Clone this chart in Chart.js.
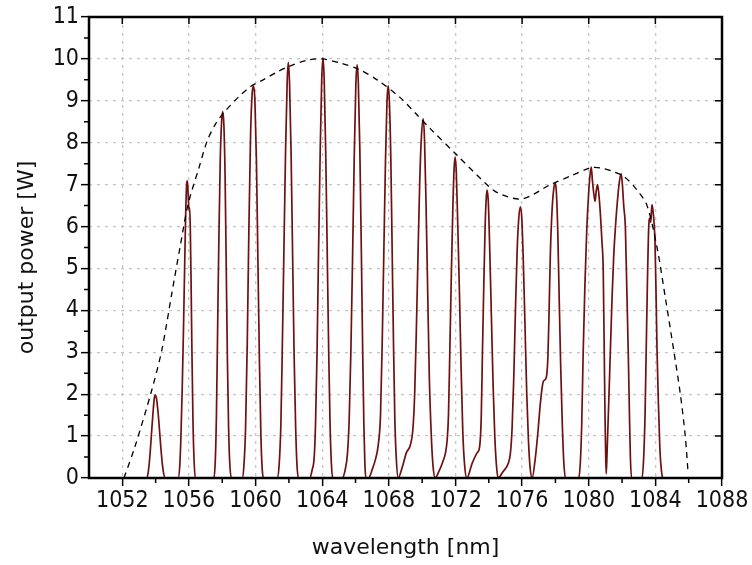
<!DOCTYPE html>
<html><head><meta charset="utf-8">
<script src="https://cdn.jsdelivr.net/npm/chart.js@4/dist/chart.umd.min.js"></script>
<style>html,body{margin:0;padding:0;background:#fff}#wrap{width:752px;height:565px}</style>
</head><body><div id="wrap"><canvas id="c" width="752" height="565"></canvas></div>
<script>
// ---- data ----
const line1054 = [[1053.45,0],[1053.55,0.12],[1053.65,0.5],[1053.75,1.05],[1053.85,1.6],[1053.93,1.93],[1053.98,1.98],[1054.05,1.9],[1054.15,1.55],[1054.25,1.05],[1054.35,0.55],[1054.45,0.18],[1054.58,0]];
const line1056 = [[1055.35,0],[1055.45,0.3],[1055.52,1.0],[1055.6,2.2],[1055.67,3.5],[1055.74,5.0],[1055.81,6.4],[1055.87,7.05],[1055.91,7.09],[1055.96,6.7],[1056.0,6.4],[1056.04,6.45],[1056.08,6.0],[1056.13,4.6],[1056.18,3.0],[1056.24,1.4],[1056.3,0.5],[1056.38,0]];
const line1058 = [[1057.5,0],[1057.58,0.4],[1057.65,1.5],[1057.72,3.5],[1057.8,5.8],[1057.88,7.6],[1057.96,8.5],[1058.03,8.74],[1058.1,8.4],[1058.17,7.2],[1058.24,5.0],[1058.31,2.8],[1058.38,1.2],[1058.45,0.35],[1058.55,0]];
const line1060 = [[1059.2,0],[1059.3,0.3],[1059.4,1.2],[1059.5,3.2],[1059.6,6.0],[1059.7,8.2],[1059.8,9.2],[1059.88,9.35],[1059.96,9.0],[1060.05,7.6],[1060.14,5.2],[1060.23,2.8],[1060.32,1.0],[1060.4,0.2],[1060.48,0]];
const line1062 = [[1061.3,0],[1061.42,0.35],[1061.52,1.3],[1061.6,3.0],[1061.7,5.4],[1061.8,7.8],[1061.9,9.5],[1061.97,9.92],[1062.04,9.4],[1062.13,7.8],[1062.22,5.4],[1062.31,3.0],[1062.4,1.3],[1062.48,0.35],[1062.57,0]];
const line1064 = [[1063.25,0],[1063.4,0.2],[1063.52,0.5],[1063.6,1.3],[1063.69,3.0],[1063.78,5.4],[1063.88,7.8],[1063.97,9.5],[1064.05,10.02],[1064.12,9.5],[1064.21,7.8],[1064.3,5.4],[1064.39,3.0],[1064.47,1.3],[1064.55,0.35],[1064.63,0]];
const line1066 = [[1065.2,0],[1065.38,0.2],[1065.52,0.6],[1065.62,1.4],[1065.72,3.0],[1065.82,5.2],[1065.92,7.6],[1066.02,9.4],[1066.1,9.86],[1066.17,9.4],[1066.26,7.8],[1066.35,5.4],[1066.43,3.0],[1066.5,1.3],[1066.56,0.35],[1066.62,0]];
const line1068 = [[1066.78,0],[1067.0,0.2],[1067.2,0.45],[1067.35,0.75],[1067.5,1.5],[1067.6,3.2],[1067.7,5.4],[1067.8,7.6],[1067.89,9.0],[1067.96,9.36],[1068.03,9.0],[1068.12,7.6],[1068.2,5.4],[1068.28,3.2],[1068.36,1.4],[1068.45,0.45],[1068.56,0]];
const line1070 = [[1068.8,0.25],[1069.05,0.6],[1069.3,0.8],[1069.45,1.2],[1069.55,2.0],[1069.65,3.5],[1069.75,5.3],[1069.85,7.0],[1069.95,8.1],[1070.06,8.57],[1070.14,8.1],[1070.23,6.6],[1070.33,4.5],[1070.43,2.4],[1070.55,1.0],[1070.65,0.3],[1070.78,0]];
const line1072 = [[1071.0,0.15],[1071.25,0.4],[1071.4,0.6],[1071.5,0.9],[1071.58,1.5],[1071.66,3.0],[1071.75,4.8],[1071.84,6.4],[1071.92,7.4],[1071.98,7.66],[1072.05,7.3],[1072.14,6.0],[1072.24,4.4],[1072.34,2.6],[1072.44,1.1],[1072.55,0.3],[1072.68,0]];
const line1074 = [[1073.0,0.35],[1073.3,0.6],[1073.45,0.75],[1073.55,1.5],[1073.62,3.0],[1073.7,4.6],[1073.78,6.0],[1073.85,6.7],[1073.9,6.87],[1073.97,6.6],[1074.06,5.4],[1074.16,3.8],[1074.26,2.2],[1074.36,1.0],[1074.46,0.3],[1074.56,0]];
const line1076 = [[1074.85,0.15],[1075.17,0.35],[1075.3,0.6],[1075.4,1.2],[1075.5,2.4],[1075.6,4.0],[1075.7,5.4],[1075.8,6.2],[1075.9,6.47],[1075.98,6.2],[1076.07,5.2],[1076.17,3.7],[1076.28,2.0],[1076.38,0.9],[1076.48,0.25],[1076.6,0]];
const line1078 = [[1076.8,0.5],[1076.95,1.1],[1077.1,1.8],[1077.27,2.3],[1077.45,2.4],[1077.55,2.9],[1077.62,4.0],[1077.7,5.4],[1077.8,6.4],[1077.9,6.9],[1077.99,7.04],[1078.06,6.8],[1078.14,5.9],[1078.22,4.4],[1078.32,2.6],[1078.42,1.2],[1078.5,0.4],[1078.6,0]];
const line1080 = [[1079.4,0],[1079.5,0.4],[1079.58,1.3],[1079.67,3.05],[1079.77,4.6],[1079.88,5.9],[1079.98,6.7],[1080.07,7.2],[1080.15,7.42],[1080.22,7.1],[1080.3,6.8],[1080.38,6.6],[1080.45,6.85],[1080.53,7.0],[1080.6,6.8],[1080.7,6.3],[1080.8,5.6],[1080.87,4.96],[1080.93,3.05],[1080.98,1.4],[1081.02,0.5],[1081.05,0.1]];
const line1082 = [[1081.1,0.6],[1081.2,1.8],[1081.3,3.05],[1081.4,4.3],[1081.5,5.3],[1081.6,5.97],[1081.72,6.6],[1081.85,7.1],[1081.95,7.26],[1082.02,7.0],[1082.1,6.5],[1082.2,5.97],[1082.28,4.6],[1082.37,3.05],[1082.44,1.6],[1082.5,0.5],[1082.57,0]];
const line1084 = [[1083.2,0],[1083.3,0.5],[1083.38,1.5],[1083.45,3.05],[1083.52,4.6],[1083.6,5.97],[1083.67,6.2],[1083.72,6.1],[1083.77,6.4],[1083.8,6.52],[1083.85,6.4],[1083.92,6.1],[1083.98,5.6],[1084.05,4.2],[1084.1,3.05],[1084.18,1.8],[1084.27,0.7],[1084.37,0.15],[1084.45,0]];
const spectrumStart = [1050, 0];
const spectrumEnd = [1088, 0];

const envelopeX = [1052.1,1052.76,1053.77,1054.37,1054.97,1055.47,1055.96,1056.6,1057.1,1057.6,1058.1,1059.0,1059.7,1060.45,1061.3,1062.0,1063.1,1064.0,1065.1,1066.2,1067.3,1068.7,1069.7,1070.5,1072.1,1073.7,1074.55,1076.0,1077.7,1079.0,1080.1,1080.7,1081.4,1082.1,1082.9,1083.5,1084.1,1084.6,1085.1,1085.5,1085.8,1085.95];
const envelopeY = [0,0.75,2.1,3.05,4.4,5.52,6.55,7.4,8.05,8.45,8.72,9.1,9.34,9.5,9.69,9.82,9.97,10.0,9.9,9.75,9.5,9.07,8.66,8.33,7.7,7.07,6.8,6.66,7.0,7.22,7.4,7.4,7.32,7.2,6.87,6.5,5.5,4.3,3.05,2.0,0.98,0.2];

const xTickValues = [1052,1056,1060,1064,1068,1072,1076,1080,1084,1088];
const xMinorTicks = [1054,1058,1062,1066,1070,1074,1078,1082,1086];
const yTickValues = [0,1,2,3,4,5,6,7,8,9,10,11];
const yMinorTicks = [0.5,1.5,2.5,3.5,4.5,5.5,6.5,7.5,8.5,9.5,10.5];
const xTitle = 'wavelength [nm]';
const yTitle = 'output power [W]';

// ---- build ----
const spectrum = [spectrumStart, ...line1054, ...line1056, ...line1058, ...line1060, ...line1062, ...line1064,
  ...line1066, ...line1068, ...line1070, ...line1072, ...line1074, ...line1076, ...line1078, ...line1080,
  ...line1082, ...line1084, spectrumEnd].map(p => ({x: p[0], y: p[1]}));
const envelope = envelopeX.map((x, i) => ({x, y: envelopeY[i]}));

const tickFont = {family: "'DejaVu Sans Condensed', 'Liberation Sans Narrow', 'DejaVu Sans', sans-serif", size: 23};
const titleFont = {family: "'DejaVu Sans', sans-serif", size: 22};

const framePlugin = {
  id: 'frame',
  afterDraw(chart) {
    const {ctx, chartArea: a, scales: {x, y}} = chart;
    ctx.save();
    ctx.strokeStyle = '#000';
    ctx.lineWidth = 1.5;
    ctx.beginPath();
    xMinorTicks.forEach(v => { const px = x.getPixelForValue(v); ctx.moveTo(px, a.bottom); ctx.lineTo(px, a.bottom + 5); });
    yMinorTicks.forEach(v => { const py = y.getPixelForValue(v); ctx.moveTo(a.left, py); ctx.lineTo(a.left - 5, py); });
    xTickValues.forEach(v => { const px = x.getPixelForValue(v); ctx.moveTo(px, a.top); ctx.lineTo(px, a.top + 7); });
    yTickValues.forEach(v => { const py = y.getPixelForValue(v); ctx.moveTo(a.right, py); ctx.lineTo(a.right - 7, py); });
    ctx.stroke();
    ctx.lineWidth = 2.5;
    ctx.strokeRect(a.left, a.top, a.right - a.left, a.bottom - a.top);
    // y axis title
    ctx.fillStyle = '#111';
    ctx.font = `${titleFont.size}px ${titleFont.family}`;
    ctx.textAlign = 'center';
    ctx.textBaseline = 'middle';
    ctx.translate(27, (a.top + a.bottom) / 2 + 10);
    ctx.rotate(-Math.PI / 2);
    ctx.fillText(yTitle, 0, 0);
    ctx.restore();
  }
};

new Chart(document.getElementById('c'), {
  type: 'line',
  data: {
    datasets: [
      {data: envelope, borderColor: '#000', borderWidth: 1.3, borderDash: [6, 5], pointRadius: 0, tension: 0.3, fill: false},
      {data: spectrum, borderColor: '#6e1111', borderWidth: 1.7, pointRadius: 0, cubicInterpolationMode: 'monotone', fill: false}
    ]
  },
  options: {
    responsive: false,
    animation: false,
    devicePixelRatio: 1,
    layout: {padding: {top: 17, right: 30, left: 0, bottom: 0}},
    plugins: {legend: {display: false}, tooltip: {enabled: false}},
    scales: {
      x: {
        type: 'linear', min: 1050, max: 1088,
        afterBuildTicks: s => { s.ticks = xTickValues.map(v => ({value: v})); },
        afterFit: s => { s.height = 87; },
        ticks: {autoSkip: false, maxRotation: 0, font: tickFont, color: '#111', padding: 1, callback: v => String(v)},
        grid: {color: '#c4c4c4', lineWidth: 1.3, tickColor: '#000', tickLength: 8, tickWidth: 1.5},
        border: {display: false, dash: [3, 5]},
        title: {display: true, text: xTitle, font: titleFont, color: '#111', padding: {top: 0, bottom: 4}}
      },
      y: {
        type: 'linear', min: 0, max: 11,
        afterBuildTicks: s => { s.ticks = yTickValues.map(v => ({value: v})); },
        afterFit: s => { s.width = 89; },
        ticks: {autoSkip: false, font: tickFont, color: '#111', padding: 2, callback: v => String(v)},
        grid: {color: '#c4c4c4', lineWidth: 1.3, tickColor: '#000', tickLength: 8, tickWidth: 1.5},
        border: {display: false, dash: [3, 5]}
      }
    }
  },
  plugins: [framePlugin]
});
</script>
</body></html>
